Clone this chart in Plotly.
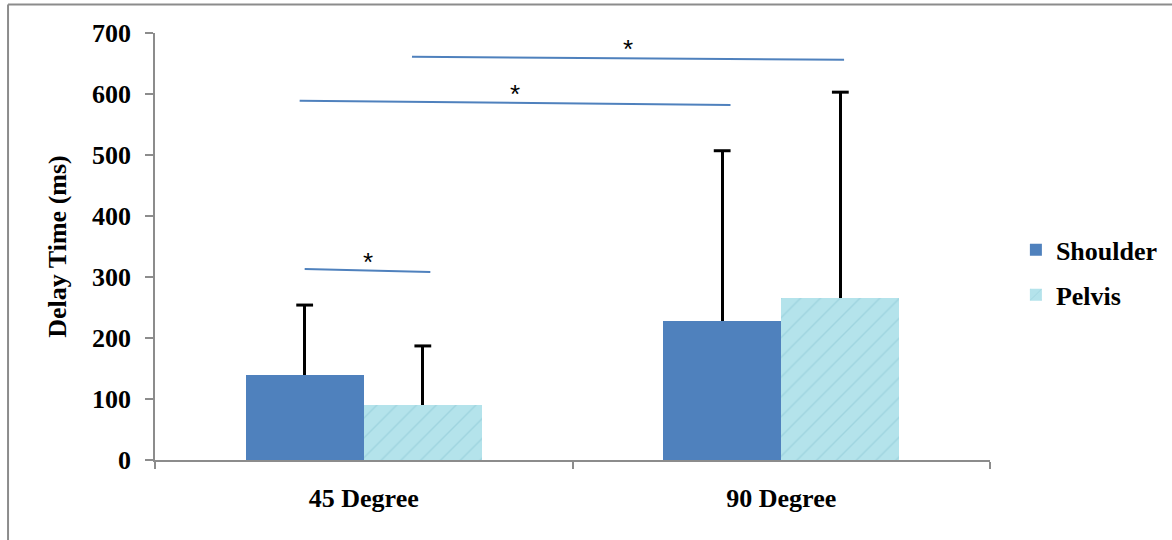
import plotly.graph_objects as go

categories = ["45 Degree", "90 Degree"]
shoulder = [140, 228]
shoulder_sd = [114, 279]
pelvis = [90, 266]
pelvis_sd = [97, 337]
y_ticks = [0, 100, 200, 300, 400, 500, 600, 700]

# significance comparisons: (series_a, cat_a, series_b, cat_b, y_start, y_end)
comparisons = [
    ("S", 0, "P", 0, 313, 308),
    ("S", 0, "S", 1, 589, 582),
    ("P", 0, "P", 1, 661, 656),
]

BLUE = "#4F81BD"
CYAN = "#B4E3EB"
FONT = "Liberation Serif"
bw = 0.283
idx = list(range(len(categories)))
xs = [i - bw / 2 for i in idx]
xp = [i + bw / 2 for i in idx]

fig = go.Figure()
fig.add_trace(go.Bar(
    x=xs, y=shoulder, width=bw, name="Shoulder", legendgroup="s",
    marker=dict(color=BLUE, line=dict(width=0)),
    error_y=dict(type="data", array=shoulder_sd, arrayminus=[0] * len(shoulder),
                 symmetric=False, color="black", thickness=3, width=0),
))
fig.add_trace(go.Bar(
    x=xp, y=pelvis, width=bw, name="Pelvis", legendgroup="p",
    marker=dict(color=CYAN, line=dict(width=0),
                pattern=dict(shape="/", fgcolor="#8FCBD7", bgcolor=CYAN,
                             size=14, solidity=0.1, fgopacity=0.6)),
    error_y=dict(type="data", array=pelvis_sd, arrayminus=[0] * len(pelvis),
                 symmetric=False, color="black", thickness=3, width=0),
))
# error bar caps
fig.add_trace(go.Scatter(
    x=xs + xp,
    y=[v + e for v, e in zip(shoulder, shoulder_sd)] + [v + e for v, e in zip(pelvis, pelvis_sd)],
    mode="markers", showlegend=False, hoverinfo="skip",
    marker=dict(symbol="line-ew", size=12, line=dict(color="black", width=3)),
))

def cx(series, cat):
    return (xs if series == "S" else xp)[cat]

ext = [(0.0, 0.018), (-0.012, 0.02), (-0.026, 0.009)]
for (sa, ca, sb, cb, y0, y1), (e0, e1) in zip(comparisons, ext):
    x0 = cx(sa, ca) + e0
    x1 = cx(sb, cb) + e1
    fig.add_shape(type="line", x0=x0, x1=x1, y0=y0, y1=y1, xref="x", yref="y",
                  line=dict(color=BLUE, width=2))
    fig.add_annotation(x=(x0 + x1) / 2, y=(y0 + y1) / 2, text="*", showarrow=False,
                       yshift=9, font=dict(family="Liberation Sans", size=26, color="black"))

# outer frame (left and top edges)
fig.add_shape(type="line", xref="paper", yref="paper", x0=-0.176, x1=-0.176, y0=1.067, y1=-0.3,
              line=dict(color="#8C8C8C", width=2))
fig.add_shape(type="line", xref="paper", yref="paper", x0=-0.176, x1=1.3, y0=1.067, y1=1.067,
              line=dict(color="#8C8C8C", width=2))

fig.update_layout(
    width=1172, height=540,
    margin=dict(l=155, r=182, t=33, b=80, autoexpand=False),
    paper_bgcolor="white", plot_bgcolor="white",
    barmode="overlay", bargap=0,
    font=dict(family=FONT, size=26, color="black"),
    showlegend=True,
    legend=dict(x=1.031, y=0.547, xanchor="left", yanchor="top",
                font=dict(family=FONT, size=26, color="black", weight="bold"),
                tracegroupgap=8, bgcolor="rgba(0,0,0,0)"),
    xaxis=dict(range=[-0.5, 1.5], tickvals=idx, ticktext=["<b>%s</b>" % c for c in categories],
               ticks="", showline=True, linecolor="#8C8C8C", linewidth=1.5,
               showgrid=False, zeroline=False, fixedrange=True, ticklabelstandoff=14,
               tickfont=dict(family=FONT, size=26, color="black"),
               minor=dict(tick0=0.5, dtick=1, ticks="outside", ticklen=7,
                          tickcolor="#8C8C8C", tickwidth=1.5, showgrid=False)),
    yaxis=dict(range=[0, 700], tickvals=y_ticks, ticktext=["<b>%d</b>" % t for t in y_ticks],
               ticks="outside", ticklen=8, tickcolor="#8C8C8C", tickwidth=1.5,
               showline=True, linecolor="#8C8C8C", linewidth=1.5,
               showgrid=False, zeroline=False, fixedrange=True, ticklabelstandoff=9,
               tickfont=dict(family=FONT, size=26, color="black"),
               title=dict(text="<b>Delay Time (ms)</b>", standoff=18,
                          font=dict(family=FONT, size=26, color="black"))),
)

fig.write_html("out.html")
